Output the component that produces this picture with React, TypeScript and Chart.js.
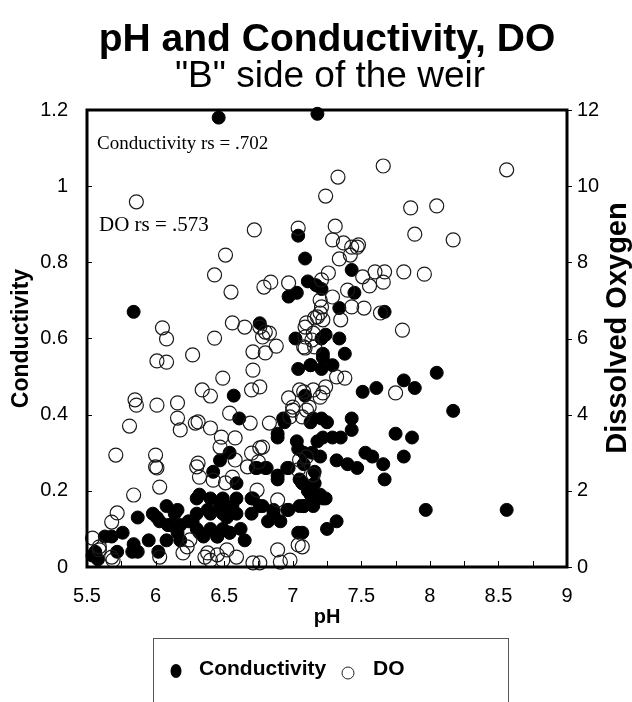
import React, { useEffect, useRef } from 'react';
import { Chart, registerables } from 'chart.js';

Chart.register(...registerables);

const SANS = '"Liberation Sans", Arial, Helvetica, sans-serif';
const SERIF = '"Liberation Serif", "Times New Roman", serif';

const titleText = 'pH and Conductivity, DO';
const subtitleText = '"B" side of the weir';
const xAxisTitle = 'pH';
const leftAxisTitle = 'Conductivity';
const rightAxisTitle = 'Dissolved Oxygen';
const conductivityNote = 'Conductivity rs = .702';
const doNote = 'DO rs = .573';
const legendLabels = ['Conductivity', 'DO'];

const phMin = 5.5;
const phMax = 9;
const phStep = 0.5;
const condMin = 0;
const condMax = 1.2;
const condStep = 0.2;
const doMin = 0;
const doMax = 12;
const doStep = 2;

// [pH, conductivity]
const conductivityData: [number, number][] = [
  [6.46, 1.18], [7.18, 1.19], [5.84, 0.67], [7.04, 0.87], [7.09, 0.81], [6.97, 0.71], [7.03, 0.72], [7.11, 0.75], [7.17, 0.74], [6.76, 0.64],
  [7.43, 0.78], [7.45, 0.72], [7.34, 0.68], [7.67, 0.67], [7.24, 0.61], [7.34, 0.60], [7.38, 0.56], [7.22, 0.56], [7.13, 0.53], [7.29, 0.53],
  [7.21, 0.52], [7.09, 0.45], [7.51, 0.46], [7.61, 0.47], [7.81, 0.49], [7.89, 0.47], [8.05, 0.51], [8.17, 0.41], [7.43, 0.39], [7.43, 0.36],
  [7.15, 0.39], [7.25, 0.38], [7.22, 0.34], [7.29, 0.34], [7.35, 0.34], [7.75, 0.35], [7.87, 0.34], [7.53, 0.30], [7.58, 0.29], [7.66, 0.27],
  [7.81, 0.29], [7.67, 0.23], [7.08, 0.30], [7.20, 0.29], [7.32, 0.28], [7.40, 0.27], [7.47, 0.26], [7.16, 0.25], [7.16, 0.22], [7.07, 0.22],
  [7.13, 0.19], [7.24, 0.18], [7.08, 0.16], [7.15, 0.16], [7.97, 0.15], [8.56, 0.15], [7.25, 0.10], [7.32, 0.12], [7.07, 0.09], [7.21, 0.73],
  [7.02, 0.60], [7.21, 0.60], [7.04, 0.52], [6.57, 0.45], [6.61, 0.39], [6.89, 0.34], [6.94, 0.38], [7.04, 0.31], [7.18, 0.33], [7.21, 0.39],
  [7.13, 0.38], [6.54, 0.30], [6.47, 0.28], [6.42, 0.25], [6.73, 0.26], [6.81, 0.26], [6.96, 0.26], [6.89, 0.23], [7.08, 0.27], [7.05, 0.23],
  [6.59, 0.22], [6.32, 0.19], [7.20, 0.19], [7.11, 0.20], [7.05, 0.16], [7.22, 0.18], [6.71, 0.18], [6.78, 0.16], [6.86, 0.15], [6.97, 0.15],
  [6.70, 0.14], [6.82, 0.12], [6.91, 0.12], [6.65, 0.07],
  [6.30, 0.18], [6.40, 0.18], [6.49, 0.18], [6.59, 0.18], [6.30, 0.14], [6.40, 0.14], [6.49, 0.14], [6.59, 0.14], [6.30, 0.10], [6.40, 0.10],
  [6.49, 0.10], [6.62, 0.10], [6.35, 0.08], [6.45, 0.08], [6.54, 0.09],
  [5.87, 0.13], [5.68, 0.08], [5.76, 0.09], [5.63, 0.08], [5.56, 0.04], [5.54, 0.03], [5.58, 0.02], [5.72, 0.04], [5.83, 0.04], [5.87, 0.04],
  [5.84, 0.06], [5.95, 0.07], [6.02, 0.04], [5.98, 0.14], [6.08, 0.16], [6.16, 0.15], [6.03, 0.12], [6.11, 0.11], [6.18, 0.11], [6.08, 0.07],
  [6.18, 0.07], [6.27, 0.12], [6.24, 0.12],
  [6.01, 0.13], [6.14, 0.14], [6.09, 0.11], [6.16, 0.09], [6.93, 0.39], [6.89, 0.35], [7.03, 0.33], [7.14, 0.30], [6.74, 0.26], [6.80, 0.26],
  [6.89, 0.24], [6.97, 0.26], [7.07, 0.22], [6.70, 0.18], [6.76, 0.16], [6.86, 0.14], [6.96, 0.15], [7.15, 0.18], [7.08, 0.16], [7.04, 0.09],
  [6.52, 0.13], [6.54, 0.09], [6.45, 0.08], [6.32, 0.09], [6.38, 0.15], [6.47, 0.16], [6.56, 0.16], [7.13, 0.53], [7.22, 0.55],
];

// [pH, dissolved oxygen]
const dissolvedOxygenData: [number, number][] = [
  [5.86, 9.59], [6.72, 8.85], [6.51, 8.19], [6.43, 7.67], [6.55, 7.22], [6.79, 7.35], [6.84, 7.48], [6.97, 7.46], [7.04, 8.90], [6.56, 6.41],
  [6.65, 6.30], [6.05, 6.28], [6.08, 5.99], [6.43, 6.01], [6.76, 6.30], [6.83, 6.14], [7.09, 6.30], [7.15, 6.14], [7.20, 7.01], [7.24, 9.74],
  [7.33, 10.24], [7.66, 10.53], [8.56, 10.43], [7.86, 9.43], [8.05, 9.48], [7.89, 8.74], [8.17, 8.59], [7.31, 8.95], [7.29, 8.59], [7.37, 8.51],
  [7.43, 8.40], [7.47, 8.40], [7.42, 8.19], [7.34, 8.09], [7.26, 7.72], [7.21, 7.54], [7.60, 7.75], [7.67, 7.75], [7.66, 7.48], [7.81, 7.75],
  [7.96, 7.69], [7.51, 7.62], [7.56, 7.38], [7.40, 7.27], [7.29, 7.09], [7.20, 6.67], [7.16, 6.54], [7.43, 6.83], [7.52, 6.80], [7.35, 6.49],
  [7.80, 6.22], [7.10, 6.41], [7.64, 6.67], [7.48, 8.46], [7.21, 6.83], [7.22, 6.49], [7.38, 4.96], [7.32, 4.99], [7.24, 4.73], [7.22, 4.57],
  [7.75, 4.57], [7.15, 4.65], [7.10, 4.12], [7.07, 3.94], [7.07, 0.53], [7.08, 5.78], [6.80, 6.17], [6.78, 6.04], [6.88, 5.80], [6.71, 5.65],
  [6.80, 5.62], [6.27, 5.57], [6.71, 5.17], [6.49, 4.96], [6.70, 4.65], [6.76, 4.73], [6.34, 4.65], [6.40, 4.49], [6.97, 4.44], [7.08, 4.60],
  [7.18, 6.57], [7.09, 6.04], [7.14, 5.96], [7.09, 5.75], [7.16, 5.78], [7.20, 4.46], [6.01, 5.41], [6.08, 5.38], [5.85, 4.39], [5.86, 4.25],
  [6.01, 4.25], [6.16, 4.31], [6.16, 3.91], [6.18, 3.60], [6.29, 3.78], [6.40, 3.65], [5.81, 3.70], [5.71, 2.94], [6.00, 2.94], [6.00, 2.63],
  [6.01, 2.60], [6.31, 2.73], [6.32, 2.36], [6.48, 3.41], [6.47, 3.15], [6.58, 3.39], [6.58, 2.81], [6.69, 3.78], [6.83, 3.78], [7.05, 4.65],
  [7.00, 4.12], [6.78, 3.15], [6.70, 2.99], [6.67, 2.63], [6.75, 2.76], [6.56, 2.36], [6.42, 2.28], [6.51, 2.21], [6.03, 2.10], [5.84, 1.89],
  [5.72, 1.42], [5.68, 1.18], [5.54, 0.76], [5.59, 0.45], [5.68, 0.26], [6.03, 0.26], [6.23, 0.53], [6.38, 0.37], [6.52, 0.45], [6.59, 0.26],
  [6.76, 0.11], [6.89, 0.45], [6.91, 0.13], [7.04, 0.58], [7.05, 2.81], [7.15, 2.42], [6.31, 3.81], [6.54, 4.04], [6.98, 3.94], [7.00, 4.20],
  [7.12, 4.20], [6.76, 3.13], [6.74, 2.02], [6.89, 1.76], [7.04, 2.55], [7.10, 2.89], [6.36, 0.26], [6.45, 0.32], [6.49, 0.18], [6.71, 0.11],
  [6.98, 0.18], [6.40, 0.18], [6.30, 2.63], [6.25, 0.71], [6.20, 0.37], [5.59, 0.53], [5.69, 0.18],
];

const formatTick = (v: number | string) => String(Number(Number(v).toFixed(2)));

const decorPlugin = {
  id: 'decor',
  afterDraw(chart: any) {
    const ctx: CanvasRenderingContext2D = chart.ctx;
    const { left, right, top, bottom } = chart.chartArea;
    const xs = chart.scales.x;
    const ys = chart.scales.y;
    const ys2 = chart.scales.y2;
    ctx.save();

    // frame
    ctx.strokeStyle = '#000';
    ctx.lineWidth = 3;
    ctx.strokeRect(left, top, right - left, bottom - top);

    // tick marks
    ctx.lineWidth = 1;
    ctx.beginPath();
    for (let v = phMin; v <= phMax + 1e-6; v += phStep / 2) {
      const px = Math.round(xs.getPixelForValue(v)) + 0.5;
      ctx.moveTo(px, bottom);
      ctx.lineTo(px, bottom - 6);
    }
    for (let v = condMin; v <= condMax + 1e-6; v += condStep) {
      const py = Math.round(ys.getPixelForValue(v)) + 0.5;
      ctx.moveTo(left, py);
      ctx.lineTo(left + 5, py);
    }
    for (let v = doMin; v <= doMax + 1e-6; v += doStep) {
      const py = Math.round(ys2.getPixelForValue(v)) + 0.5;
      ctx.moveTo(right, py);
      ctx.lineTo(right + 5, py);
    }
    ctx.stroke();

    ctx.fillStyle = '#000';
    // titles
    ctx.textAlign = 'center';
    ctx.textBaseline = 'middle';
    ctx.font = `bold 39px ${SANS}`;
    ctx.fillText(titleText, 327, 40);
    ctx.font = `37px ${SANS}`;
    ctx.fillText(subtitleText, 330, 77);

    // x axis title
    ctx.font = `bold 20px ${SANS}`;
    ctx.fillText(xAxisTitle, (left + right) / 2, 617);

    // y axis titles
    ctx.save();
    ctx.translate(22, (top + bottom) / 2);
    ctx.rotate(-Math.PI / 2);
    ctx.font = `bold 23px ${SANS}`;
    ctx.fillText(leftAxisTitle, 0, 0);
    ctx.restore();

    ctx.save();
    ctx.translate(618, 328);
    ctx.rotate(-Math.PI / 2);
    ctx.font = `bold 29px ${SANS}`;
    ctx.fillText(rightAxisTitle, 0, 0);
    ctx.restore();

    // annotations
    ctx.textAlign = 'left';
    ctx.textBaseline = 'alphabetic';
    ctx.font = `19px ${SERIF}`;
    ctx.fillText(conductivityNote, 97, 149);
    ctx.font = `21px ${SERIF}`;
    ctx.fillText(doNote, 99, 231);

    // legend
    ctx.strokeStyle = '#555';
    ctx.lineWidth = 1;
    ctx.strokeRect(153.5, 638.5, 355, 80);
    ctx.beginPath();
    ctx.ellipse(176, 671, 5.5, 7, 0, 0, Math.PI * 2);
    ctx.fillStyle = '#000';
    ctx.fill();
    ctx.beginPath();
    ctx.arc(348, 673, 6, 0, Math.PI * 2);
    ctx.strokeStyle = '#222';
    ctx.lineWidth = 1;
    ctx.stroke();
    ctx.font = `bold 21px ${SANS}`;
    ctx.textBaseline = 'middle';
    ctx.fillText(legendLabels[0], 199, 669);
    ctx.fillText(legendLabels[1], 373, 669);

    ctx.restore();
  },
};

export default function App() {
  const canvasRef = useRef<HTMLCanvasElement | null>(null);

  useEffect(() => {
    const canvas = canvasRef.current;
    if (!canvas) return;
    const tickFont = { family: SANS, size: 20 };
    const chart = new Chart(canvas, {
      type: 'scatter',
      data: {
        datasets: [
          {
            label: legendLabels[1],
            data: dissolvedOxygenData.map(([x, y]) => ({ x, y })),
            yAxisID: 'y2',
            pointStyle: 'circle',
            pointRadius: 7,
            pointBackgroundColor: 'rgba(0,0,0,0)',
            pointBorderColor: '#1a1a1a',
            pointBorderWidth: 1.2,
            clip: false,
          } as any,
          {
            label: legendLabels[0],
            data: conductivityData.map(([x, y]) => ({ x, y })),
            yAxisID: 'y',
            pointStyle: 'circle',
            pointRadius: 6.5,
            pointBackgroundColor: '#000',
            pointBorderColor: '#000',
            pointBorderWidth: 1,
            clip: false,
          } as any,
        ],
      },
      options: {
        responsive: false,
        animation: false,
        events: [],
        layout: { padding: { top: 110, left: 0, right: 0, bottom: 0 } },
        plugins: {
          legend: { display: false },
          tooltip: { enabled: false },
          title: { display: false },
        },
        scales: {
          x: {
            type: 'linear',
            position: 'bottom',
            min: phMin,
            max: phMax,
            ticks: { stepSize: phStep, padding: 17, font: tickFont, color: '#000', callback: formatTick },
            grid: { display: false, drawTicks: false },
            border: { display: false },
            afterFit: (s: any) => { s.height = 135; },
          },
          y: {
            type: 'linear',
            position: 'left',
            min: condMin,
            max: condMax,
            ticks: { stepSize: condStep, padding: 19, font: tickFont, color: '#000', callback: formatTick },
            grid: { display: false, drawTicks: false },
            border: { display: false },
            afterFit: (s: any) => { s.width = 87; },
          },
          y2: {
            type: 'linear',
            position: 'right',
            min: doMin,
            max: doMax,
            ticks: { stepSize: doStep, padding: 10, font: tickFont, color: '#000', callback: formatTick },
            grid: { display: false, drawTicks: false },
            border: { display: false },
            afterFit: (s: any) => { s.width = 65; },
          },
        },
      } as any,
      plugins: [decorPlugin],
    });
    return () => chart.destroy();
  }, []);

  return (
    <div style={{ position: 'absolute', left: 0, top: 0, width: 632, height: 702, background: '#fff' }}>
      <canvas ref={canvasRef} width={632} height={702} />
    </div>
  );
}
